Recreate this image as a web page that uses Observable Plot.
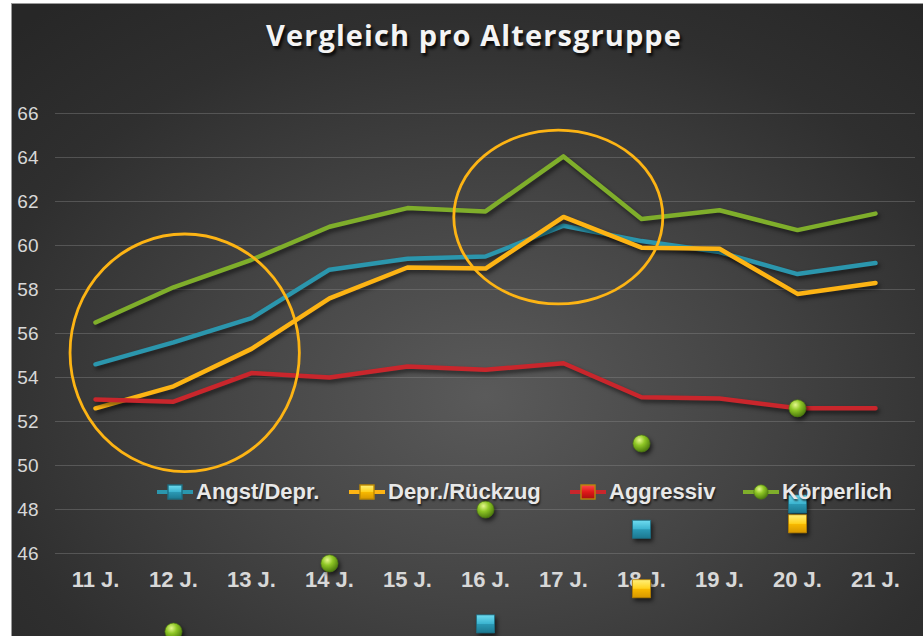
<!DOCTYPE html>
<html>
<head>
<meta charset="utf-8">
<script src="https://cdn.jsdelivr.net/npm/d3@7"></script>
<script src="https://cdn.jsdelivr.net/npm/@observablehq/plot@0.6"></script>
<style>
  html, body { margin: 0; padding: 0; background: #ffffff; }
  #wrap { position: relative; width: 923px; height: 636px; overflow: hidden; }
  #bg { position: absolute; left: 11px; top: 3px; right: 0; bottom: 0;
        background: radial-gradient(ellipse 75% 80% at 52% 62%, #5a5a5a 0%, #444 40%, #2f2f2f 75%, #272727 100%);
        border-left: 1px solid #9a9a9a; border-top: 1px solid #9a9a9a; }
  #title { position: absolute; left: 25px; right: 0; top: 15px; text-align: center;
           font: 700 29px "Open Sans", sans-serif; color: #f4f4f4; letter-spacing: 1.1px;
           text-shadow: 2px 3px 3px rgba(0,0,0,0.85); }
  #chart { position: absolute; left: 0; top: 0; }
  #chart svg { overflow: visible; }
  #chart g[aria-label="line"] path { filter: drop-shadow(2px 3px 2px rgba(0,0,0,0.55)); stroke-linecap: round; }
  #chart g[aria-label="dot"] path, #chart g[aria-label="dot"] circle { filter: drop-shadow(2px 3px 2px rgba(0,0,0,0.6)); }
  .leg { position: absolute; top: 480px; height: 24px; display: flex; align-items: center;
         font: 700 22px "Liberation Sans", Arial, sans-serif; color: #e8e8e8;
         text-shadow: 1px 2px 2px rgba(0,0,0,0.6); white-space: nowrap; }
  .leg svg { display: block; margin-right: 2px; }
</style>
</head>
<body>
<svg width="0" height="0" style="position:absolute">
  <defs>
    <radialGradient id="gGreen" cx="38%" cy="30%" r="70%">
      <stop offset="0%" stop-color="#e4f78c"/>
      <stop offset="45%" stop-color="#8ec625"/>
      <stop offset="100%" stop-color="#4e7c0e"/>
    </radialGradient>
    <linearGradient id="gTeal" x1="0" y1="0" x2="0" y2="1">
      <stop offset="0%" stop-color="#6fdcf0"/>
      <stop offset="48%" stop-color="#3cb4d0"/>
      <stop offset="52%" stop-color="#2a98b4"/>
      <stop offset="100%" stop-color="#1c7890"/>
    </linearGradient>
    <linearGradient id="gYellow" x1="0" y1="0" x2="0" y2="1">
      <stop offset="0%" stop-color="#fff07a"/>
      <stop offset="48%" stop-color="#ffd21e"/>
      <stop offset="52%" stop-color="#f7b800"/>
      <stop offset="100%" stop-color="#d69700"/>
    </linearGradient>
    <linearGradient id="gRed" x1="0" y1="0" x2="0" y2="1">
      <stop offset="0%" stop-color="#ff4a4a"/>
      <stop offset="50%" stop-color="#e01818"/>
      <stop offset="100%" stop-color="#a80f0f"/>
    </linearGradient>
  </defs>
</svg>
<div id="wrap">
  <div id="bg"></div>
  <div id="title">Vergleich pro Altersgruppe</div>
  <div id="chart"></div>
  <div id="legend"></div>
</div>
<script>
// ---- data ----
const categories = ["11 J.", "12 J.", "13 J.", "14 J.", "15 J.", "16 J.", "17 J.", "18 J.", "19 J.", "20 J.", "21 J."];
const seriesNames = ["Angst/Depr.", "Depr./Rückzug", "Aggressiv", "Körperlich"];
const seriesColors = ["#2b96ad", "#fdb414", "#c9262c", "#7fae2b"];
const angstDepr    = [54.6, 55.6, 56.7, 58.9, 59.4, 59.5, 60.9, 60.2, 59.7, 58.7, 59.2];
const deprRueckzug = [52.6, 53.6, 55.3, 57.6, 59.0, 58.95, 61.3, 59.9, 59.85, 57.8, 58.3];
const aggressiv    = [53.0, 52.9, 54.2, 54.0, 54.5, 54.35, 54.65, 53.1, 53.05, 52.6, 52.6];
const koerperlich  = [56.5, 58.1, 59.35, 60.85, 61.7, 61.55, 64.05, 61.2, 61.6, 60.7, 61.45];
// stray markers (marker-only points)
const strayKoerperlichCats = ["12 J.", "14 J.", "16 J.", "18 J.", "20 J."];
const strayKoerperlichVals = [42.45, 45.55, 48.0, 51.0, 52.6];
const strayAngstCats = ["16 J.", "18 J.", "20 J."];
const strayAngstVals = [42.8, 47.1, 48.25];
const strayDeprCats = ["18 J.", "20 J."];
const strayDeprVals = [44.4, 47.35];
const yTicks = [46, 48, 50, 52, 54, 56, 58, 60, 62, 64, 66];

// ---- build tables ----
const seriesValues = [angstDepr, deprRueckzug, aggressiv, koerperlich];
const rows = seriesNames.flatMap((name, s) => categories.map((c, i) => ({cat: c, v: seriesValues[s][i], name})));
const zip = (cats, vals) => cats.map((c, i) => ({cat: c, v: vals[i]}));
const strayGreen = zip(strayKoerperlichCats, strayKoerperlichVals);
const strayTeal = zip(strayAngstCats, strayAngstVals);
const strayYellow = zip(strayDeprCats, strayDeprVals);

// annotation ellipses (centre in data terms)
const annotations = [
  {cat: "12 J.", shift: 0.15, v: 55.1, rxSteps: 1.47, ryUnits: 5.4},
  {cat: "17 J.", shift: -0.06, v: 61.27, rxSteps: 1.34, ryUnits: 3.95}
];
function ellipseMark(index, scales) {
  const x = scales.x, y = scales.y;
  const step = x(categories[1]) - x(categories[0]);
  const g = d3.create("svg:g").attr("fill", "none").attr("stroke", "#fdb414").attr("stroke-width", 2.8);
  for (const a of annotations) {
    g.append("ellipse")
      .attr("cx", x(a.cat) + a.shift * step)
      .attr("cy", y(a.v))
      .attr("rx", a.rxSteps * step)
      .attr("ry", Math.abs(y(0) - y(a.ryUnits)));
  }
  return g.node();
}

const plot = Plot.plot({
  width: 923,
  height: 636,
  marginLeft: 55,
  marginRight: 8,
  marginTop: 113,
  marginBottom: 83,
  style: {background: "transparent", overflow: "visible"},
  x: {type: "point", domain: categories, padding: 0.5, label: null},
  y: {domain: [46, 66], label: null},
  color: {domain: seriesNames, range: seriesColors},
  marks: [
    Plot.gridY(yTicks, {stroke: "#8a8a8a", strokeOpacity: 0.4, strokeWidth: 1}),
    Plot.axisY(yTicks, {tickSize: 0, tickPadding: 17, fontSize: 19, fill: "#d8d8d8", fontFamily: "Liberation Sans, Arial, sans-serif"}),
    Plot.axisX({tickSize: 0, tickPadding: 18, fontSize: 22, fontWeight: "bold", fill: "#d8d8d8", fontFamily: "Liberation Sans, Arial, sans-serif"}),
    Plot.line(rows, {x: "cat", y: "v", z: "name", stroke: "name", strokeWidth: 4.5, curve: "linear"}),
    Plot.dot(strayGreen, {x: "cat", y: "v", r: 8.6, fill: "url(#gGreen)", stroke: "#4f7a12", strokeWidth: 0.6}),
    Plot.dot(strayTeal, {x: "cat", y: "v", symbol: "square", r: 10.2, fill: "url(#gTeal)", stroke: "#1d6f84", strokeWidth: 0.8}),
    Plot.dot(strayYellow, {x: "cat", y: "v", symbol: "square", r: 10.2, fill: "url(#gYellow)", stroke: "#b88200", strokeWidth: 0.8}),
    ellipseMark
  ]
});
document.getElementById("chart").appendChild(plot);

// ---- legend ----
const legendSpec = [
  {name: seriesNames[0], color: seriesColors[0], marker: "square", fill: "url(#gTeal)", edge: "#1d6f84", left: 157},
  {name: seriesNames[1], color: seriesColors[1], marker: "square", fill: "url(#gYellow)", edge: "#c08a00", left: 349},
  {name: seriesNames[2], color: seriesColors[2], marker: "square", fill: "url(#gRed)", edge: "#b8860b", left: 570},
  {name: seriesNames[3], color: seriesColors[3], marker: "circle", fill: "url(#gGreen)", edge: "#4f7a12", left: 743}
];
const legend = d3.select("#legend");
for (const s of legendSpec) {
  const item = legend.append("div").attr("class", "leg").style("left", s.left + "px");
  const svg = item.append("svg").attr("width", 37).attr("height", 24);
  svg.append("line").attr("x1", 0).attr("x2", 36).attr("y1", 12).attr("y2", 12)
    .attr("stroke", s.color).attr("stroke-width", 4);
  if (s.marker === "square") {
    svg.append("rect").attr("x", 11).attr("y", 5).attr("width", 14).attr("height", 14)
      .attr("fill", s.fill).attr("stroke", s.edge).attr("stroke-width", 1.4);
  } else {
    svg.append("circle").attr("cx", 18).attr("cy", 12).attr("r", 7.2)
      .attr("fill", s.fill).attr("stroke", s.edge).attr("stroke-width", 0.6);
  }
  item.append("span").text(s.name);
}
</script>
</body>
</html>
